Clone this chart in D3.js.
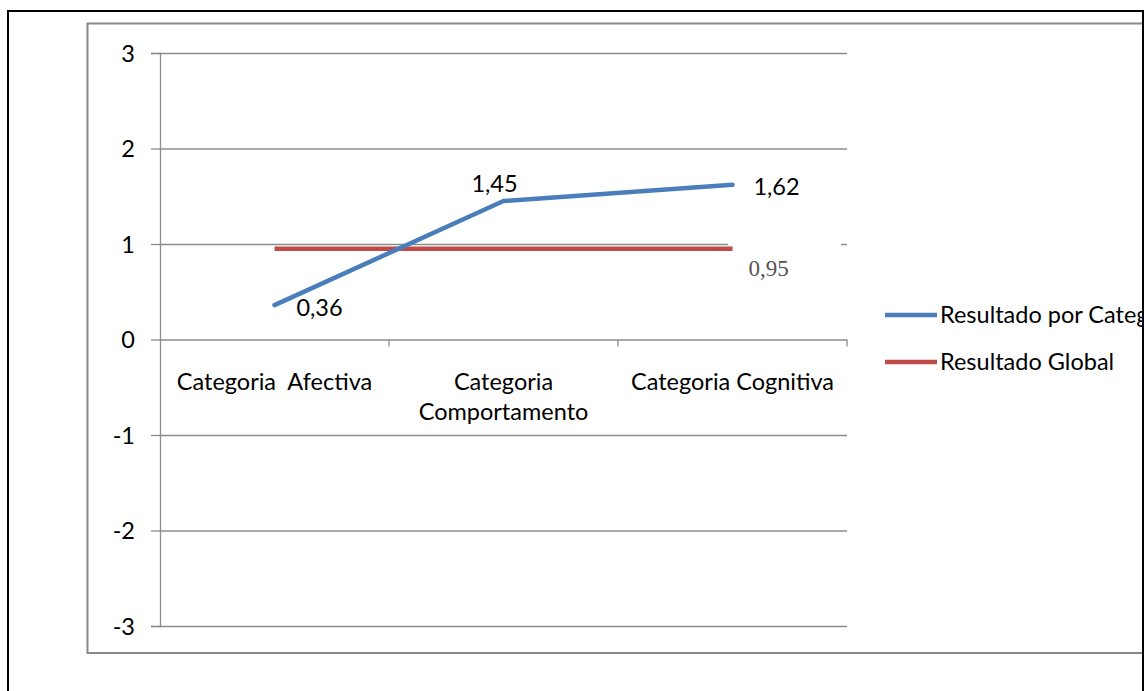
<!DOCTYPE html>
<html>
<head>
<meta charset="utf-8">
<script src="https://cdn.jsdelivr.net/npm/d3@7"></script>
<style>
  html, body { margin: 0; padding: 0; background: #fff; overflow: hidden; }
  svg { display: block; }
</style>
</head>
<body>
<script>
// Category results vs. global result
const categories = ["Categoria  Afectiva", "Categoria Comportamento", "Categoria Cognitiva"];
const categoryLines = [["Categoria  Afectiva"], ["Categoria", "Comportamento"], ["Categoria Cognitiva"]];
const porCategoria = [0.36, 1.45, 1.62];
const global = [0.95, 0.95, 0.95];
const yTicks = [-3, -2, -1, 0, 1, 2, 3];
const seriesNames = ["Resultado por Categoria", "Resultado Global"];

const W = 1145, H = 691;
const font = "Lato, 'Open Sans', sans-serif";
const fs = 23.5;
const blue = "#4a7ebb", red = "#be4b48", grid = "#8c8c8c";

const svg = d3.select("body").append("svg").attr("width", W).attr("height", H);

// outer frame and chart area frame
svg.append("rect").attr("x", 8).attr("y", 11).attr("width", 1135).attr("height", 700)
  .attr("fill", "none").attr("stroke", "#000").attr("stroke-width", 2);
svg.append("rect").attr("x", 87.5).attr("y", 23.5).attr("width", 1070).attr("height", 629.5)
  .attr("fill", "#fff").attr("stroke", "#888").attr("stroke-width", 2);

const x = d3.scaleBand().domain(categories).range([160, 847]).paddingInner(0).paddingOuter(0);
const cx = c => x(c) + x.bandwidth() / 2;
const y = d3.scaleLinear().domain([-3, 3]).range([626, 53]);

// horizontal gridlines + y axis
const yAxis = d3.axisLeft(y).tickValues(yTicks).tickSize(9).tickPadding(16)
  .tickFormat(d => d3.format("d")(d).replace("−", "-"));
const gy = svg.append("g").attr("transform", "translate(160,0)").call(yAxis);
gy.select(".domain").attr("stroke", grid).attr("stroke-width", 1.3);
gy.selectAll(".tick line").attr("stroke", grid).attr("stroke-width", 1.3);
gy.selectAll(".tick text").attr("font-family", font).attr("font-size", fs).attr("fill", "#000")
  .attr("dy", "0.36em");
gy.selectAll(".tick").append("line").attr("x1", 0).attr("x2", 687)
  .attr("stroke", grid).attr("stroke-width", 1.3);

// category boundary ticks on the zero line
const bounds = categories.map(c => x(c) + x.bandwidth());
svg.append("g").attr("transform", `translate(0,${y(0)})`)
  .selectAll("line").data(bounds).enter().append("line")
  .attr("x1", d => d).attr("x2", d => d).attr("y1", 0).attr("y2", 7)
  .attr("stroke", grid).attr("stroke-width", 1.3);

// category labels
categories.forEach((c, i) => {
  const t = svg.append("text").attr("x", cx(c)).attr("y", y(0) + 50)
    .attr("text-anchor", "middle").attr("font-family", font).attr("font-size", fs)
    .attr("fill", "#000").style("white-space", "pre").attr("xml:space", "preserve");
  categoryLines[i].forEach((ln, j) => {
    t.append("tspan").attr("x", cx(c)).attr("dy", j === 0 ? 0 : 30).text(ln);
  });
});

// label box for the global value (hides the gridline behind it)
svg.append("rect").attr("x", 728).attr("y", 236).attr("width", 113).attr("height", 44).attr("fill", "#fff");

const line = d3.line().x((d, i) => cx(categories[i])).y(d => y(d));

svg.append("path").datum(global).attr("d", line).attr("fill", "none")
  .attr("stroke", red).attr("stroke-width", 4.5);
svg.append("path").datum(porCategoria).attr("d", line).attr("fill", "none")
  .attr("stroke", blue).attr("stroke-width", 4.5).attr("stroke-linecap", "round").attr("stroke-linejoin", "round");

// data labels
const fmt = v => d3.format(".2f")(v).replace(".", ",");
const lblOff = [[45, 2], [-9, -17], [44, 1.5]];
porCategoria.forEach((v, i) => {
  svg.append("text").attr("x", cx(categories[i]) + lblOff[i][0]).attr("y", y(v) + lblOff[i][1])
    .attr("text-anchor", "middle").attr("dy", "0.36em")
    .attr("font-family", font).attr("font-size", fs).attr("fill", "#000").text(fmt(v));
});
svg.append("text").attr("x", cx(categories[2]) + 36).attr("y", y(global[2]) + 20)
  .attr("text-anchor", "middle").attr("dy", "0.33em")
  .attr("font-family", "'Liberation Serif', 'Times New Roman', serif").attr("font-size", 23)
  .attr("fill", "#555").text(fmt(global[2]));

// legend
const legend = svg.append("g");
[blue, red].forEach((col, i) => {
  const ly = 315 + i * 47;
  legend.append("line").attr("x1", 885).attr("x2", 937).attr("y1", ly).attr("y2", ly)
    .attr("stroke", col).attr("stroke-width", 4.5);
  legend.append("text").attr("x", 940).attr("y", ly).attr("dy", "0.36em")
    .attr("font-family", font).attr("font-size", fs).attr("fill", "#000").text(seriesNames[i]);
});
// the legend is cut off at the right edge of the frame
svg.append("rect").attr("x", 1144).attr("y", 0).attr("width", 10).attr("height", H).attr("fill", "#fff");
svg.append("line").attr("x1", 1143).attr("x2", 1143).attr("y1", 10).attr("y2", H)
  .attr("stroke", "#000").attr("stroke-width", 2);
</script>
</body>
</html>
